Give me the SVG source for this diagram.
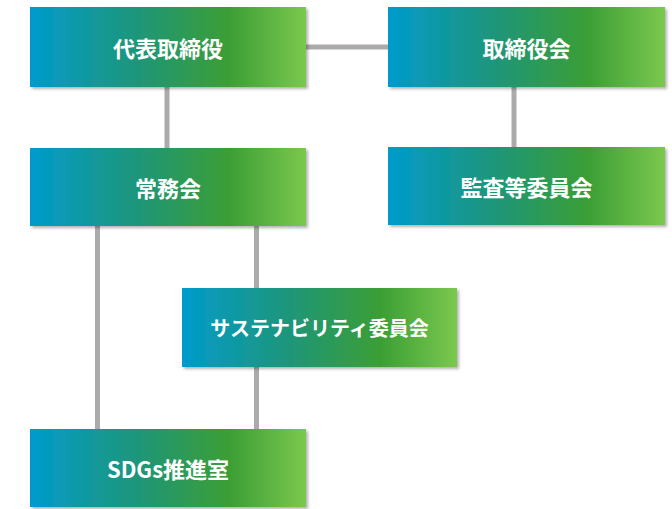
<svg xmlns="http://www.w3.org/2000/svg" width="672" height="509" viewBox="0 0 672 509">
<defs>
<linearGradient id="g" x1="0" y1="0" x2="1" y2="0">
<stop offset="0" stop-color="#009bcc"/>
<stop offset="0.4" stop-color="#1f9677"/>
<stop offset="0.72" stop-color="#3b9e35"/>
<stop offset="1" stop-color="#7bc84e"/>
</linearGradient>
<filter id="sh" x="-5%" y="-10%" width="115%" height="130%">
<feDropShadow dx="2" dy="2" stdDeviation="1.5" flood-color="#000" flood-opacity="0.3"/>
</filter>
<style>
.box{fill:url(#g);filter:url(#sh)}
.t{fill:#fff;font-family:"Noto Sans CJK JP","Noto Sans",sans-serif;font-weight:bold;font-size:22px;text-anchor:middle;dominant-baseline:central}
.s{font-size:20px}
.c{stroke:#adaaab;stroke-width:5;fill:none}
</style>
</defs>
<g id="connectors">
<line class="c" x1="306" y1="47" x2="388" y2="47"/>
<line class="c" x1="167" y1="87" x2="167" y2="148"/>
<line class="c" x1="514" y1="87" x2="514" y2="147"/>
<line class="c" x1="97.5" y1="226" x2="97.5" y2="429"/>
<line class="c" x1="256.5" y1="226" x2="256.5" y2="288"/>
<line class="c" x1="256.5" y1="367" x2="256.5" y2="429"/>
</g>
<g id="n1"><rect class="box" x="30" y="7" width="276" height="80"/><text class="t" x="168" y="47">代表取締役</text></g>
<g id="n2"><rect class="box" x="388" y="7" width="277" height="80"/><text class="t" x="526.5" y="47">取締役会</text></g>
<g id="n3"><rect class="box" x="30" y="148" width="276" height="78"/><text class="t" x="168" y="187">常務会</text></g>
<g id="n4"><rect class="box" x="388" y="147" width="277" height="78"/><text class="t" x="526.5" y="186">監査等委員会</text></g>
<g id="n5"><rect class="box" x="182" y="288" width="275" height="79"/><text class="t s" x="319.5" y="327.5">サステナビリティ委員会</text></g>
<g id="n6"><rect class="box" x="30" y="429" width="276" height="78"/><text class="t" x="168" y="468">SDGs推進室</text></g>
</svg>
